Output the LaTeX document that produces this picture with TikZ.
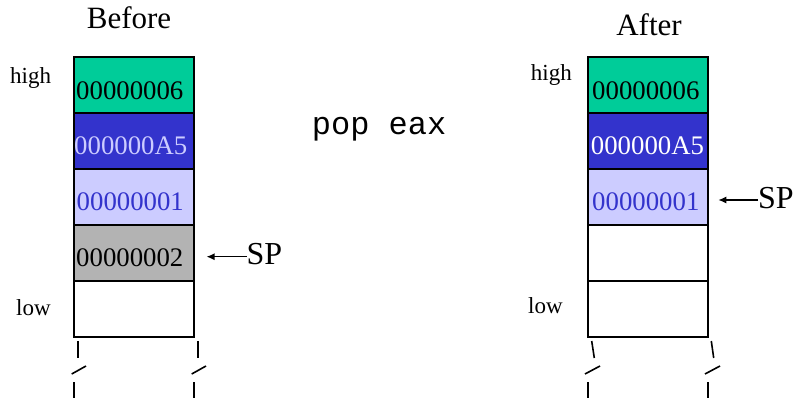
\documentclass[tikz,border=0pt]{standalone}
\usepackage{fontspec}
\setmainfont{Liberation Serif}
\setmonofont{Liberation Mono}
\usetikzlibrary{arrows.meta}
\definecolor{cgreen}{HTML}{00CC99}
\definecolor{cblue}{HTML}{3333CC}
\definecolor{clight}{HTML}{CCCCFF}
\definecolor{cgray}{HTML}{B3B3B3}
\tikzset{
  cell/.style={draw=black, line width=1.6pt, minimum width=120pt, minimum height=56pt, inner sep=0pt},
  val/.style={anchor=base west, inner sep=0pt, font=\fontsize{26.8}{26.8}\selectfont},
  side/.style={anchor=base west, inner sep=0pt, font=\fontsize{23}{23}\selectfont},
  head/.style={anchor=base, inner sep=0pt, font=\fontsize{31}{31}\selectfont},
  sp/.style={anchor=base west, inner sep=0pt, font=\fontsize{32}{32}\selectfont},
  spar/.style={line width=1.3pt, -{Latex[length=8pt,width=7pt]}},
  brk/.style={line width=1.6pt}
}
\begin{document}
\begin{tikzpicture}[x=1pt, y=-1pt]
\useasboundingbox (0,0) rectangle (796,398);

% ---- stack before the instruction ----
\node[cell, fill=cgreen] (b1) at (134,85) {};
\node[cell, fill=cblue]  (b2) at (134,141) {};
\node[cell, fill=clight] (b3) at (134,197) {};
\node[cell, fill=cgray]  (b4) at (134,253) {};
\node[cell, fill=white]  (b5) at (134,309) {};

\node[val] (bt1) at (76,100) {00000006};
\node[val, text=clight] (bt2) at (74,155) {000000A5};
\node[val, text=cblue] (bt3) at (76.5,211) {00000001};
\node[val] (bt4) at (76,266.7) {00000002};

\node[head] (before) at (129,29) {Before};
\node[side] (bhigh) at (10,83.3) {high};
\node[side] (blow) at (16,316) {low};

\coordinate (btip) at (206.5,256.7);
\node[sp] (bsp) at (246.5,265) {SP};
\draw[spar] (bsp.west |- btip) -- (btip);

% broken continuation below the left stack
\draw[brk] (77.7,341) -- (77.7,358);
\draw[brk] (71.7,374) -- (86,366);
\draw[brk] (74,382) -- (74,398);
\draw[brk] (197.7,341) -- (197.7,358);
\draw[brk] (191.7,374) -- (206,366);
\draw[brk] (193.7,382) -- (193.7,398);

% ---- instruction ----
\node[anchor=base west, inner sep=0pt, font=\ttfamily\fontsize{32}{32}\selectfont] (instr) at (311.7,134.3) {pop eax};

% ---- stack after the instruction ----
\node[cell, fill=cgreen] (a1) at (647.7,85) {};
\node[cell, fill=cblue]  (a2) at (647.7,141) {};
\node[cell, fill=clight] (a3) at (647.7,197) {};
\node[cell, fill=white]  (a4) at (647.7,253) {};
\node[cell, fill=white]  (a5) at (647.7,309) {};

\node[val] (at1) at (592,99.3) {00000006};
\node[val, text=white] (at2) at (590.7,155) {000000A5};
\node[val, text=cblue] (at3) at (592,211) {00000001};

\node[head] (after) at (649,36) {After};
\node[side] (ahigh) at (530.7,81) {high};
\node[side] (alow) at (528,313.3) {low};

\coordinate (atip) at (718.3,200);
\node[sp] (asp) at (758,208.3) {SP};
\draw[spar] (asp.west |- atip) -- (atip);

% broken continuation below the right stack
\draw[brk] (591.7,341) -- (594.3,358);
\draw[brk] (585,374) -- (600,366);
\draw[brk] (587.7,382) -- (587.7,398);
\draw[brk] (711.3,341) -- (713.7,358);
\draw[brk] (705,374) -- (720,366);
\draw[brk] (707.7,382) -- (707.7,398);
\end{tikzpicture}
\end{document}
